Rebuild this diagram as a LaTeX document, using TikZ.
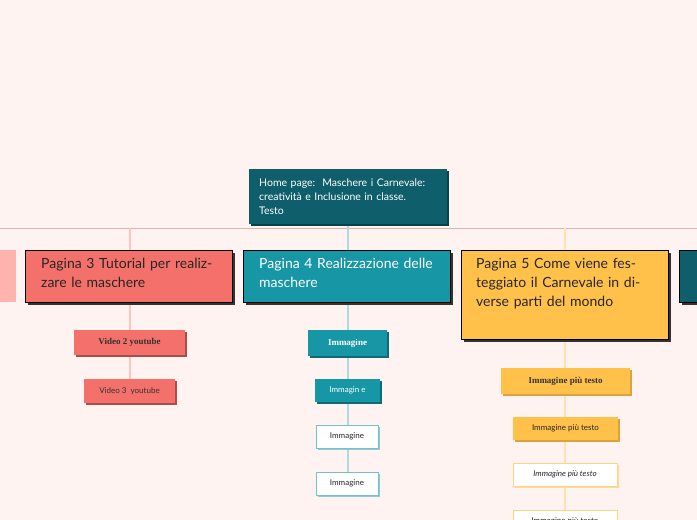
\documentclass[tikz,border=0pt]{standalone}
\usepackage{fontspec}
\setmainfont{Lato}
\newfontfamily\serifbold{Liberation Serif}
\definecolor{bg}{HTML}{FFF3F1}
\definecolor{dteal}{HTML}{0F5E6B}
\definecolor{teal}{HTML}{1797A6}
\definecolor{coral}{HTML}{F4706A}
\definecolor{gold}{HTML}{FFC14A}
\definecolor{lpink}{HTML}{FFB3AE}
\definecolor{line}{HTML}{D9B5B0}
\begin{document}
\begin{tikzpicture}[x=1pt,y=-1pt,
 big/.style={draw=black,line width=0.8pt,anchor=north west,inner sep=0pt,text width=#1,align=left,font=\fontsize{14}{19}\selectfont},
 bigsh/.style={fill=black!80},
 kid/.style={minimum height=#1,inner sep=0pt,font=\fontsize{8}{10}\selectfont}
]
\useasboundingbox[fill=bg] (0,0) rectangle (697,520);
\draw[line,line width=1pt] (0,228) -- (697,228);
\draw[coral!40,line width=1.2pt] (130,228) -- (130,391);
\draw[teal!35,line width=1.2pt] (348,224) -- (348,484);
\draw[gold!45,line width=1.2pt] (565,228) -- (565,520);
% home
\fill[dteal!70!black] (251,171) rectangle (449,226);
\node[fill=dteal,anchor=north west,minimum width=198pt,minimum height=55pt,text width=178pt,inner xsep=10pt,text=white,align=left,font=\fontsize{10.5}{14}\selectfont] (home) at (249,169) {Home page:\ \ Maschere i Carnevale: creatività e Inclusione in classe.\ \ Testo};
% left partial
\fill[lpink] (-10,250) rectangle (16,302);
% big boxes
\fill[black!80] (28,253) rectangle (235,305);
\node[big=207pt,fill=coral,minimum height=52pt,text=black!85] (p3) at (25,250) {};
\node[anchor=north west,text width=190pt,font=\fontsize{14}{19}\selectfont,text=black!85,inner sep=0pt] (p3t) at (41,258) {Pagina 3 Tutorial per realizzare le maschere};
\fill[black!80] (246,253) rectangle (453,305);
\node[big=207pt,fill=teal,minimum height=52pt] (p4) at (243,250) {};
\node[anchor=north west,text width=190pt,font=\fontsize{14}{19}\selectfont,text=white,inner sep=0pt] (p4t) at (259,258) {Pagina 4 Realizzazione delle maschere};
\fill[black!80] (464,253) rectangle (671,342);
\node[big=207pt,fill=gold,minimum height=89pt] (p5) at (461,250) {};
\node[anchor=north west,text width=185pt,font=\fontsize{14}{19}\selectfont,text=black!85,inner sep=0pt] (p5t) at (476,258) {Pagina 5 Come viene festeggiato il Carnevale in diverse parti del mondo};
\fill[black!80] (682,253) rectangle (710,305);
\draw[black,line width=0.8pt,fill=dteal] (679,250) rectangle (710,302);
% pag3 kids
\fill[coral!70!black] (76,332) rectangle (187,357);
\node[kid=25pt,minimum width=111pt,fill=coral,font=\serifbold\bfseries\fontsize{9}{10}\selectfont,text=black!80] (v2) at (129.5,342.5) {Video 2 youtube};
\fill[coral!70!black] (86,381) rectangle (177,405);
\node[kid=24pt,minimum width=91pt,fill=coral,text=black!80] (v3) at (129.5,391) {Video 3\ \ youtube};
% pag4 kids
\fill[teal!70!black] (310,332) rectangle (389,358);
\node[kid=26pt,minimum width=79pt,fill=teal,font=\serifbold\bfseries\fontsize{9}{10}\selectfont,text=white] (i1) at (347.5,343) {Immagine};
\fill[teal!70!black] (317,381) rectangle (382,404);
\node[kid=23pt,minimum width=65pt,fill=teal,text=white] (i2) at (347.5,390.5) {Immagin e};
\fill[teal!50] (318,427) rectangle (380,450);
\node[kid=23pt,minimum width=62pt,fill=white,draw=teal!60,text=black!85] (i3) at (347,436.5) {Immagine};
\fill[teal!50] (318,474) rectangle (380,497);
\node[kid=23pt,minimum width=62pt,fill=white,draw=teal!60,text=black!85] (i4) at (347,483.5) {Immagine};
% pag5 kids
\fill[gold!85!black] (503,370) rectangle (632,396);
\node[kid=26pt,minimum width=129pt,fill=gold,font=\serifbold\bfseries\fontsize{9}{10}\selectfont,text=black!80] (g1) at (565.5,381) {Immagine più testo};
\fill[gold!85!black] (515,419) rectangle (620,442);
\node[kid=23pt,minimum width=105pt,fill=gold,text=black!85] (g2) at (565.5,428.5) {Immagine più testo};
\fill[gold!60] (515,465) rectangle (619,488);
\node[kid=23pt,minimum width=104pt,fill=white,draw=gold!70,text=black!85,font=\itshape\fontsize{8}{10}\selectfont] (g3) at (565,474.5) {Immagine più testo};
\node[kid=23pt,minimum width=104pt,fill=white,draw=gold!70,text=black!85,anchor=north] (g4) at (565,510) {Immagine più testo};
\end{tikzpicture}
\end{document}
